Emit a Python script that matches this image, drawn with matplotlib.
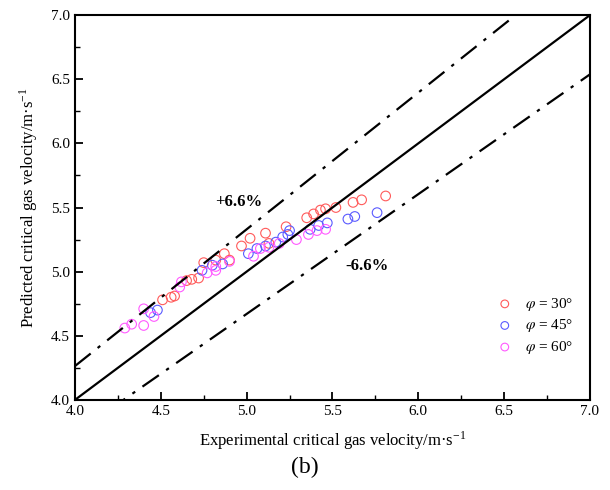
import matplotlib
matplotlib.use("Agg")
import matplotlib.pyplot as plt
import numpy as np
from matplotlib.ticker import MultipleLocator

plt.rcParams['font.family'] = ['Liberation Serif', 'DejaVu Serif']
plt.rcParams['mathtext.fontset'] = 'stix'

# Data (experimental, predicted)
exp_30 = [4.51, 4.56, 4.58, 4.65, 4.68, 4.72, 4.75, 4.82, 4.87, 4.90, 4.97, 5.02, 5.11, 5.13,
          5.23, 5.35, 5.39, 5.43, 5.46, 5.52, 5.62, 5.67, 5.81]
pred_30 = [4.78, 4.80, 4.81, 4.93, 4.94, 4.95, 5.07, 5.09, 5.14, 5.09, 5.20, 5.26, 5.30, 5.22,
           5.35, 5.42, 5.45, 5.48, 5.49, 5.50, 5.54, 5.56, 5.59]

exp_45 = [4.44, 4.48, 4.74, 4.80, 4.86, 5.01, 5.06, 5.11, 5.17, 5.21, 5.24, 5.25, 5.37, 5.42,
          5.47, 5.59, 5.63, 5.76]
pred_45 = [4.68, 4.70, 5.01, 5.05, 5.06, 5.14, 5.18, 5.20, 5.23, 5.27, 5.29, 5.32, 5.33, 5.36,
           5.38, 5.41, 5.43, 5.46]

exp_60 = [4.29, 4.33, 4.40, 4.40, 4.46, 4.61, 4.62, 4.77, 4.82, 4.82, 4.90, 5.04, 5.08, 5.13,
          5.19, 5.29, 5.36, 5.41, 5.46]
pred_60 = [4.56, 4.59, 4.58, 4.71, 4.65, 4.88, 4.92, 4.99, 5.01, 5.04, 5.08, 5.12, 5.18, 5.19,
           5.22, 5.25, 5.29, 5.32, 5.33]

labels = [r'$\varphi$ = 30°', r'$\varphi$ = 45°', r'$\varphi$ = 60°']
colors = ['#FF5A5A', '#5A5AFF', '#FF5AFF']
error_pct = 6.6

fig = plt.figure(figsize=(6.1, 4.9), dpi=100)
ax = fig.add_axes([0.123, 0.184, 0.844, 0.785])

xline = np.array([4.0, 7.0])
ax.plot(xline, xline, color='black', lw=1.6)
ax.plot(xline, xline * (1 + error_pct / 100), color='black', lw=1.6,
        dashes=(9, 4, 1.5, 4))
ax.plot(xline, xline * (1 - error_pct / 100), color='black', lw=1.6,
        dashes=(9, 4, 1.5, 4))

for xs, ys, lab, c in zip([exp_30, exp_45, exp_60], [pred_30, pred_45, pred_60], labels, colors):
    ax.scatter(xs, ys, s=48, facecolors='none', edgecolors=c, linewidths=0.8, label=lab)

ax.text(4.955, 5.54, '+6.6%', fontsize=12, fontweight='bold', ha='center', va='center')
ax.text(5.70, 5.04, '-6.6%', fontsize=12, fontweight='bold', ha='center', va='center')

ax.set_xlim(4.0, 7.0)
ax.set_ylim(4.0, 7.0)
ax.xaxis.set_major_locator(MultipleLocator(0.5))
ax.xaxis.set_minor_locator(MultipleLocator(0.25))
ax.yaxis.set_major_locator(MultipleLocator(0.5))
ax.yaxis.set_minor_locator(MultipleLocator(0.25))
ax.xaxis.set_major_formatter(matplotlib.ticker.FormatStrFormatter('%.1f'))
ax.yaxis.set_major_formatter(matplotlib.ticker.FormatStrFormatter('%.1f'))
ax.tick_params(which='both', direction='in', top=False, right=False, labelsize=11)
ax.tick_params(which='major', length=6, width=1.3)
ax.tick_params(which='minor', length=3.5, width=1.0)
for sp in ax.spines.values():
    sp.set_linewidth(1.5)

ax.set_xlabel(r'Experimental critical gas velocity/m·s$^{\mathregular{-1}}$', fontsize=12, labelpad=8)
ax.set_ylabel(r'Predicted critical gas velocity/m·s$^{\mathregular{-1}}$', fontsize=12, labelpad=8)

ax.legend(loc='lower right', bbox_to_anchor=(0.985, 0.09), frameon=False, fontsize=11,
          handletextpad=0.3, labelspacing=0.3, borderaxespad=0.2, markerscale=0.8)

fig.text(0.5, 0.045, '(b)', fontsize=17, ha='center', va='center')

fig.savefig('out.png', dpi=100)
